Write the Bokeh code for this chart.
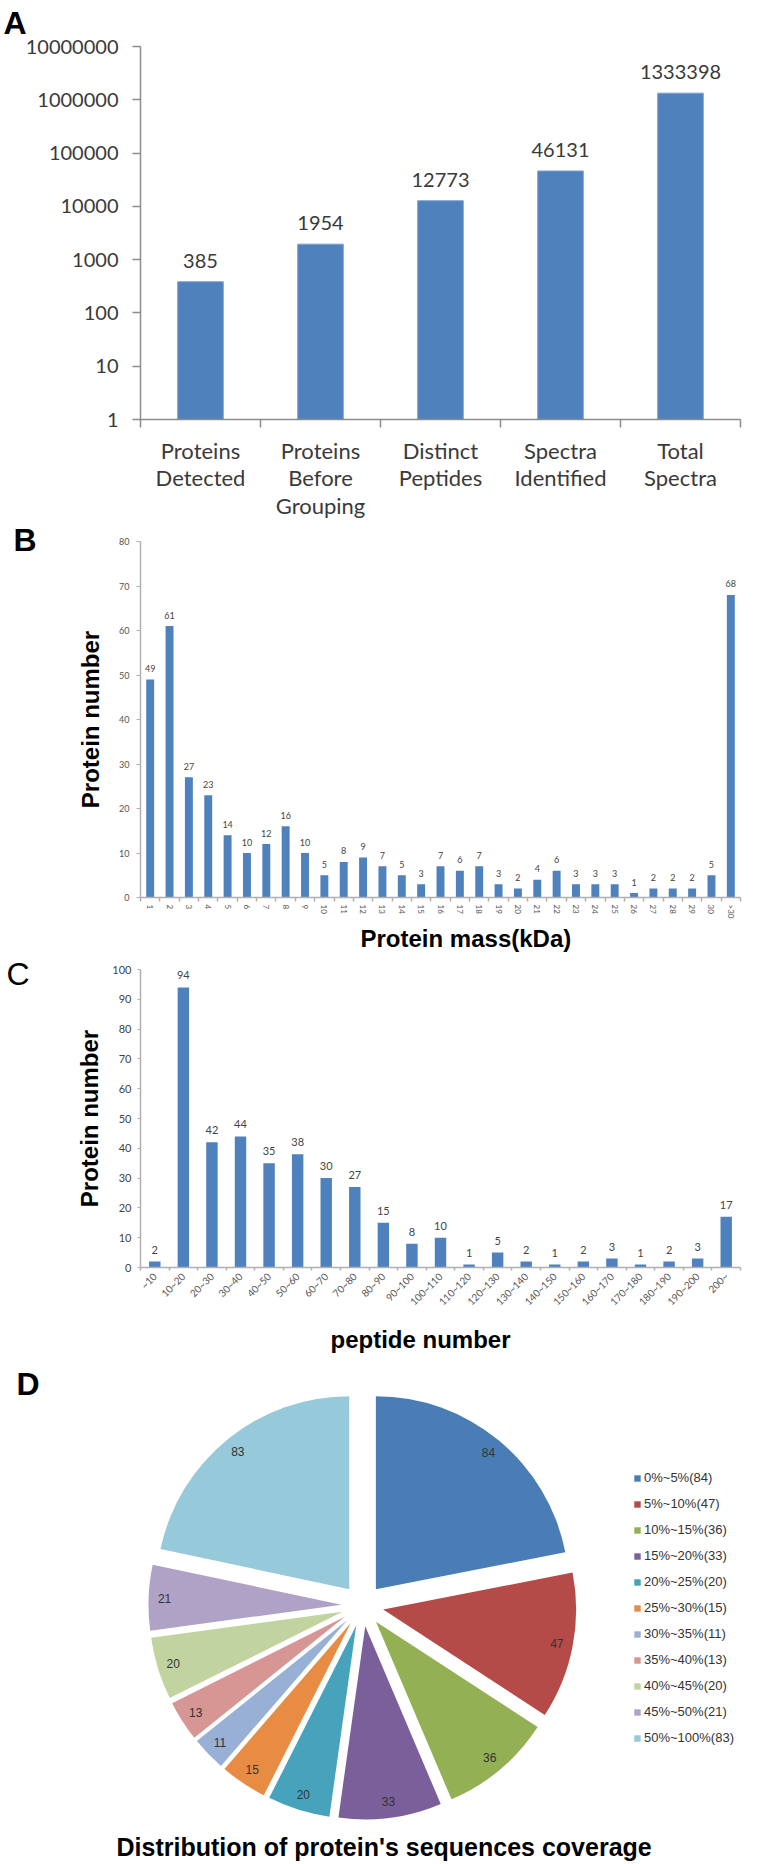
import math
from bokeh.plotting import figure
from bokeh.models import (Range1d, LinearAxis, FixedTicker, NumeralTickFormatter,
                          ColumnDataSource, Legend, LegendItem, Title)
from bokeh.layouts import column
from bokeh.embed import file_html
from bokeh.resources import INLINE
from bokeh.core.properties import value

# ---------------- data ----------------
a_categories = ["Proteins\nDetected", "Proteins\nBefore\nGrouping", "Distinct\nPeptides",
                "Spectra\nIdentified", "Total\nSpectra"]
a_values = [385, 1954, 12773, 46131, 1333398]
a_yticks = [1, 10, 100, 1000, 10000, 100000, 1000000, 10000000]

b_categories = ["1", "2", "3", "4", "5", "6", "7", "8", "9", "10",
                "11", "12", "13", "14", "15", "16", "17", "18", "19", "20",
                "21", "22", "23", "24", "25", "26", "27", "28", "29", "30", ">30"]
b_values = [49, 61, 27, 23, 14, 10, 12, 16, 10, 5,
            8, 9, 7, 5, 3, 7, 6, 7, 3, 2,
            4, 6, 3, 3, 3, 1, 2, 2, 2, 5, 68]
b_yticks = [0, 10, 20, 30, 40, 50, 60, 70, 80]

c_categories = ["~10", "10~20", "20~30", "30~40", "40~50", "50~60", "60~70", "70~80",
                "80~90", "90~100", "100~110", "110~120", "120~130", "130~140", "140~150",
                "150~160", "160~170", "170~180", "180~190", "190~200", "200~"]
c_values = [2, 94, 42, 44, 35, 38, 30, 27, 15, 8, 10, 1, 5, 2, 1, 2, 3, 1, 2, 3, 17]
c_yticks = [0, 10, 20, 30, 40, 50, 60, 70, 80, 90, 100]

d_labels = ["0%~5%(84)", "5%~10%(47)", "10%~15%(36)", "15%~20%(33)", "20%~25%(20)",
            "25%~30%(15)", "30%~35%(11)", "35%~40%(13)", "40%~45%(20)", "45%~50%(21)",
            "50%~100%(83)"]
d_values = [84, 47, 36, 33, 20, 15, 11, 13, 20, 21, 83]
d_colors = ["#4A7DB5", "#B54B48", "#94B055", "#7B5F9A", "#47A3BB", "#E98C43",
            "#98AFD6", "#D69694", "#C1D49F", "#B0A1C6", "#96C9D9"]

# ---------------- styles ----------------
BLUE = "#4F81BD"
TXT = "#3A3A3A"
TICKFONT = "Lato"
TITLEFONT = "Liberation Sans"
LEFT = 140
RIGHT = 20
W = 760


def clean(p):
    p.outline_line_color = None
    p.grid.visible = False
    p.background_fill_color = "white"
    p.border_fill_color = "white"


def letter_axis(p, txt, standoff, bold=True):
    """Panel letter drawn as the single tick label of an outer left axis."""
    p.extra_y_ranges = {"letter": Range1d(0, 1)}
    ax = LinearAxis(y_range_name="letter", ticker=FixedTicker(ticks=[1]),
                    major_label_overrides={1: txt})
    ax.axis_line_color = None
    ax.major_tick_line_color = None
    ax.minor_tick_line_color = None
    ax.major_tick_out = 0
    ax.major_tick_in = 0
    ax.minor_tick_out = 0
    ax.major_label_standoff = standoff
    ax.major_label_text_font = TITLEFONT
    ax.major_label_text_font_size = "32px"
    ax.major_label_text_font_style = "bold" if bold else "normal"
    ax.major_label_text_color = "black"
    p.add_layout(ax, "left")


def letter_title(p, txt, offset, valign, standoff, bold=True):
    p.add_layout(Title(text=txt, align="left", offset=offset, vertical_align=valign,
                       standoff=standoff, text_font=TITLEFONT, text_font_size="32px",
                       text_font_style="bold" if bold else "normal",
                       text_color="black"), "above")


def bottom_title(p, txt, offset, standoff, size="24px"):
    p.add_layout(Title(text=txt, align="left", offset=offset, vertical_align="bottom",
                       standoff=standoff, text_font=TITLEFONT, text_font_size=size,
                       text_font_style="bold", text_color="black"), "below")


def cat_axis(n, labels, gray, tick_out, width):
    ticks = list(range(1, n + 1))
    bounds = [i + 0.5 for i in range(n + 1)]
    ax = LinearAxis(ticker=FixedTicker(ticks=ticks, minor_ticks=bounds),
                    major_label_overrides={i + 1: lab for i, lab in enumerate(labels)})
    ax.major_tick_line_color = None
    ax.major_tick_out = tick_out
    ax.major_tick_in = 0
    ax.minor_tick_out = tick_out
    ax.minor_tick_in = 0
    ax.minor_tick_line_color = gray
    ax.minor_tick_line_width = width
    ax.axis_line_color = gray
    ax.axis_line_width = width
    return ax


def axis_title(ax, text, standoff):
    ax.axis_label = text
    ax.axis_label_text_font = TITLEFONT
    ax.axis_label_text_font_size = "24px"
    ax.axis_label_text_font_style = "bold"
    ax.axis_label_text_color = "black"
    ax.axis_label_standoff = standoff


# ---------------- Panel A ----------------
ax_a = list(range(1, len(a_values) + 1))
pa = figure(width=W, height=521, x_range=Range1d(0.5, len(a_values) + 0.5),
            y_range=Range1d(1, 10000000), y_axis_type="log", x_axis_type=None,
            output_backend="svg", toolbar_location=None,
            min_border_left=LEFT, min_border_right=RIGHT, min_border_top=46,
            min_border_bottom=98)
clean(pa)
ya = pa.yaxis[0]
ya.ticker = FixedTicker(ticks=a_yticks)
ya.formatter = NumeralTickFormatter(format="0")
ya.major_tick_out = 8
ya.major_tick_in = 0
ya.minor_tick_line_color = None
ya.axis_line_color = "#8C8C8C"
ya.axis_line_width = 1.5
ya.major_tick_line_color = "#8C8C8C"
ya.major_tick_line_width = 1.5
ya.major_label_text_font = TICKFONT
ya.major_label_text_font_size = "20px"
ya.major_label_text_color = TXT
ya.major_label_standoff = 14

xa = cat_axis(len(a_values), a_categories, "#8C8C8C", 8, 1.5)
xa.major_label_text_font = TICKFONT
xa.major_label_text_font_size = "22px"
xa.major_label_text_color = TXT
xa.major_label_text_line_height = 1.02
xa.major_label_standoff = 9
pa.add_layout(xa, "below")

pa.vbar(x=ax_a, top=a_values, bottom=1, width=0.38, fill_color=BLUE, line_color="#7FA2CF",
        line_width=1)
pa.text(x=ax_a, y=a_values, text=[str(v) for v in a_values], text_align="center",
        text_baseline="middle", y_offset=-21, text_font=value(TICKFONT),
        text_font_size="20px", text_color=TXT)
letter_title(pa, "A", -137, "top", 8)

# ---------------- Panel B ----------------
ax_b = list(range(1, len(b_values) + 1))
pb = figure(width=W, height=432, x_range=Range1d(0.5, len(b_values) + 0.5),
            y_range=Range1d(0, 80), x_axis_type=None,
            output_backend="svg", toolbar_location=None,
            min_border_left=LEFT, min_border_right=RIGHT, min_border_top=20,
            min_border_bottom=53)
clean(pb)
yb = pb.yaxis[0]
yb.ticker = FixedTicker(ticks=b_yticks)
yb.major_tick_out = 4
yb.major_tick_in = 0
yb.minor_tick_line_color = None
yb.axis_line_color = "#B0B0B0"
yb.axis_line_width = 1.5
yb.major_tick_line_color = "#B0B0B0"
yb.major_label_text_font = TICKFONT
yb.major_label_text_font_size = "9px"
yb.major_label_text_color = "#555555"
yb.major_label_standoff = 7
axis_title(yb, "Protein number", 12)

xb = cat_axis(len(b_values), b_categories, "#B0B0B0", 4, 1.5)
xb.major_label_orientation = "vertical"
xb.major_label_text_font = TICKFONT
xb.major_label_text_font_size = "8px"
xb.major_label_text_color = "#555555"
xb.major_label_standoff = 3
pb.add_layout(xb, "below")
bottom_title(pb, "Protein mass(kDa)", 220, 3)

pb.vbar(x=ax_b, top=b_values, bottom=0, width=0.41, fill_color=BLUE, line_color=None)
pb.text(x=ax_b, y=b_values, text=[str(v) for v in b_values], text_align="center",
        text_baseline="middle", y_offset=-11, text_font=value(TICKFONT),
        text_font_size="9px", text_color="#444444")
letter_title(pb, "B", -127, "bottom", -32)

# ---------------- Panel C ----------------
ax_c = list(range(1, len(c_values) + 1))
pc = figure(width=W, height=410, x_range=Range1d(0.5, len(c_values) + 0.5),
            y_range=Range1d(0, 100), x_axis_type=None,
            output_backend="svg", toolbar_location=None,
            min_border_left=LEFT, min_border_right=RIGHT, min_border_top=16,
            min_border_bottom=96)
clean(pc)
yc = pc.yaxis[0]
yc.ticker = FixedTicker(ticks=c_yticks)
yc.major_tick_out = 3
yc.major_tick_in = 0
yc.minor_tick_line_color = None
yc.axis_line_color = "#B0B0B0"
yc.axis_line_width = 1.5
yc.major_tick_line_color = "#B0B0B0"
yc.major_label_text_font = TICKFONT
yc.major_label_text_font_size = "11px"
yc.major_label_text_color = "#444444"
yc.major_label_standoff = 6
axis_title(yc, "Protein number", 6)

xc = cat_axis(len(c_values), c_categories, "#B0B0B0", 3, 1.5)
xc.major_label_orientation = math.pi / 4
xc.major_label_text_font = TICKFONT
xc.major_label_text_font_size = "10px"
xc.major_label_text_color = "#555555"
xc.major_label_standoff = 4
pc.add_layout(xc, "below")
bottom_title(pc, "peptide number", 190, 18)

pc.vbar(x=ax_c, top=c_values, bottom=0, width=0.4, fill_color=BLUE, line_color=None)
pc.text(x=ax_c, y=c_values, text=[str(v) for v in c_values], text_align="center",
        text_baseline="middle", y_offset=-12, text_font=value(TICKFONT),
        text_font_size="11px", text_color="#444444")
letter_axis(pc, "C", 44, bold=False)

# ---------------- Panel D ----------------
R_PX = 193.0             # pie radius in pixels
FRAME_W = W - LEFT - RIGHT
D_TOP, D_BOTTOM, D_H = 20, 37, 501
FRAME_H = D_H - D_TOP - D_BOTTOM
CX, CY = 222.0, 222.0    # pie centre, pixels from frame left / frame bottom
EXPLODE = 0.109          # explosion distance (radius units)
LABEL_R = 1.026          # label distance (radius units)

pd_ = figure(width=W, height=D_H,
             x_range=Range1d(-CX / R_PX, (FRAME_W - CX) / R_PX),
             y_range=Range1d(-CY / R_PX, (FRAME_H - CY) / R_PX),
             x_axis_type=None, y_axis_type=None,
             output_backend="svg", toolbar_location=None,
             min_border_left=LEFT, min_border_right=RIGHT,
             min_border_top=D_TOP, min_border_bottom=D_BOTTOM)
clean(pd_)

total = float(sum(d_values))
starts, ends, xs, ys, lxs, lys = [], [], [], [], [], []
cum = 0.0
for v in d_values:
    a0 = math.pi / 2 - 2 * math.pi * cum / total
    a1 = math.pi / 2 - 2 * math.pi * (cum + v) / total
    mid = (a0 + a1) / 2
    starts.append(a0)
    ends.append(a1)
    xs.append(EXPLODE * math.cos(mid))
    ys.append(EXPLODE * math.sin(mid))
    lxs.append(LABEL_R * math.cos(mid))
    lys.append(LABEL_R * math.sin(mid))
    cum += v

src = ColumnDataSource(dict(x=xs, y=ys, start=starts, end=ends, color=d_colors,
                            label=d_labels, lx=lxs, ly=lys,
                            txt=[str(v) for v in d_values]))
wr = pd_.wedge(x="x", y="y", radius=1.0, start_angle="start", end_angle="end",
               direction="clock", fill_color="color", line_color=None, source=src)
pd_.text(x="lx", y="ly", text="txt", text_align="center", text_baseline="middle",
         text_font=value(TITLEFONT), text_font_size="12px", text_color="#333333",
         source=src)

legend = Legend(items=[LegendItem(label=d_labels[i], renderers=[wr], index=i)
                       for i in range(len(d_labels))],
                location=(493, 82), orientation="vertical",
                border_line_color=None, background_fill_alpha=0,
                padding=0, margin=0, spacing=11, glyph_width=8, glyph_height=8,
                label_height=15, label_standoff=3,
                label_text_font=TITLEFONT, label_text_font_size="13px",
                label_text_color="#333333")
pd_.add_layout(legend)

bottom_title(pd_, "Distribution of protein's sequences coverage", -24, 7, size="25px")
letter_axis(pd_, "D", 101)

layout = column(pa, pb, pc, pd_)
open("out.html", "w").write(file_html(layout, INLINE))
